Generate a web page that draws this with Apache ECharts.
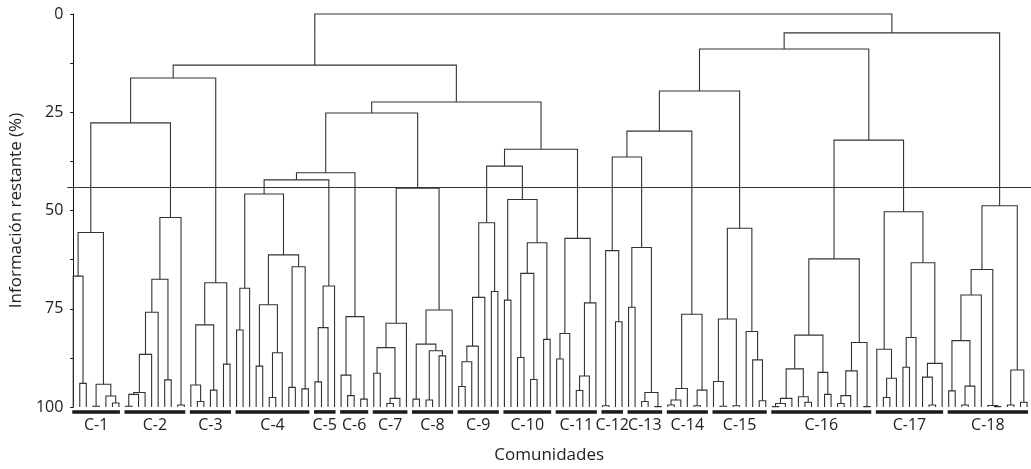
<!DOCTYPE html>
<html><head><meta charset="utf-8">
<script src="https://cdn.jsdelivr.net/npm/echarts/dist/echarts.min.js"></script>
<style>html,body{margin:0;padding:0;background:#fff}#c{width:1031px;height:469px}</style>
</head><body><div id="c"></div>
<script>
// Leaf marker; inner nodes are [height (% information remaining), left, right]
const L = 'leaf';

const communities = ['C-1','C-2','C-3','C-4','C-5','C-6','C-7','C-8','C-9','C-10','C-11','C-12','C-13','C-14','C-15','C-16','C-17','C-18'];

const C1  = [55.6, [66.7, L, [94.0, L, L]], [94.2, [99.8, L, L], [97.2, L, [99.0, L, L]]]];
const C2  = [51.8, [67.5, [75.9, [86.6, [96.3, [96.8, [99.8, L, L], L], L], L], L], [93.1, L, L]], [99.5, L, L]];
const C3  = [68.4, [79.1, [94.4, L, [98.6, L, L]], [95.7, L, L]], [89.1, L, L]];
const C4  = [45.8, [69.8, [80.4, L, L], L], [61.3, [74.0, [89.6, L, L], [86.2, [97.6, L, L], L]], [64.3, [95.0, L, L], [95.4, L, L]]]];
const C5  = [69.2, [79.8, [93.6, L, L], L], L];
const C6  = [77.0, [91.9, L, [97.1, L, L]], [98.0, L, L]];
const C7  = [78.7, [84.9, [91.4, L, L], [97.8, [99.1, L, L], L]], L];
const C8  = [75.3, [84.0, [98.0, L, L], [85.7, [98.2, L, L], [87.0, L, L]]], L];
const C9  = [53.1, [72.1, [84.5, [88.5, [94.8, L, L], L], L], L], [70.6, L, L]];
const C10 = [47.2, [72.8, L, L], [58.2, [66.0, [87.4, L, L], [93.0, L, L]], [82.8, L, L]]];
const C11 = [57.1, [81.3, [87.8, L, L], L], [73.5, [92.1, [95.8, L, L], L], L]];
const C12 = [60.2, [99.7, L, L], [78.3, L, L]];
const C13 = [59.4, [74.6, L, L], [96.3, [98.6, L, L], [99.9, L, L]]];
const C14 = [76.4, [95.3, [98.2, [99.5, L, L], L], L], [95.7, [99.7, L, L], L]];
const C15 = [54.5, [77.6, [93.5, L, [99.8, L, L]], [99.7, L, L]], [80.8, L, [88.0, L, [98.4, L, L]]]];
const C16 = [62.3, [81.7, [90.3, [97.8, [99.1, [99.9, L, L], L], L], [97.4, L, [98.8, L, L]]], [91.2, L, [96.8, L, L]]], [83.6, [90.8, [97.1, [99.1, L, L], L], L], [99.9, L, L]]];
const C17 = [50.3, [85.3, L, [92.7, [97.6, L, L], L]], [63.3, [82.3, [89.9, L, L], L], [88.9, [92.4, L, [99.5, L, L]], L]]];
const C18 = [48.8, [65.0, [71.5, [83.1, [95.9, L, L], [94.7, [99.5, L, L], L]], L], [99.6, L, [99.9, L, L]]], [90.6, [99.5, L, L], [98.8, L, L]]];

const communityTrees = [C1,C2,C3,C4,C5,C6,C7,C8,C9,C10,C11,C12,C13,C14,C15,C16,C17,C18];

// Upper part of the tree: joins between communities
const upperTree = [0.0,
  [13.0,
    [16.3, [27.7, 'C-1', 'C-2'], 'C-3'],
    [22.4,
      [25.2, [40.4, [42.2, 'C-4', 'C-5'], 'C-6'], [44.3, 'C-7', 'C-8']],
      [34.4, [38.7, 'C-9', 'C-10'], 'C-11']]],
  [4.8,
    [8.9,
      [19.6, [29.8, [36.4, 'C-12', 'C-13'], 'C-14'], 'C-15'],
      [32.1, 'C-16', 'C-17']],
    'C-18']];

const cutoff = 44.1;
const yTicks = [0, 25, 50, 75, 100];

// ---- build links from the tree ----
let leafIdx = 0;
const links = [];
const groups = [];
function layout(node) {
  if (node === L) { return {x: leafIdx++, h: 100}; }
  if (typeof node === 'string') {
    const first = leafIdx;
    const r = layout(communityTrees[communities.indexOf(node)]);
    groups.push([first, leafIdx - 1, node]);
    return r;
  }
  const A = layout(node[1]), B = layout(node[2]);
  links.push([A.x, A.h, B.x, B.h, node[0]]);
  return {x: (A.x + B.x) / 2, h: node[0]};
}
layout(upperTree);
const nLeaves = leafIdx;

const FONT = 'Open Sans';
const chart = echarts.init(document.getElementById('c'));
chart.setOption({
  animation: false,
  backgroundColor: '#fff',
  grid: {left: 60, right: 0, top: 14, bottom: 62},
  xAxis: {
    type: 'value', min: -0.9, max: nLeaves - 0.4,
    axisLine: {show: false}, axisTick: {show: false}, axisLabel: {show: false}, splitLine: {show: false},
    name: 'Comunidades', nameLocation: 'middle', nameGap: 40,
    nameTextStyle: {fontFamily: FONT, fontSize: 17, color: '#222'}
  },
  yAxis: {
    type: 'value', inverse: true, min: 0, max: 100, interval: 12.5,
    axisLine: {show: true, lineStyle: {color: '#111', width: 1}},
    axisTick: {show: true, length: 3, lineStyle: {color: '#111'}},
    splitLine: {show: false},
    axisLabel: {
      margin: 4, fontFamily: FONT, fontSize: 16, color: '#222',
      formatter: v => (yTicks.indexOf(v) >= 0 ? String(v) : '')
    },
    name: 'Información restante (%)', nameLocation: 'middle', nameGap: 33,
    nameTextStyle: {fontFamily: FONT, fontSize: 17, color: '#222'}
  },
  series: [
    {
      type: 'custom', clip: false,
      data: links,
      encode: {x: [0, 2], y: [1, 3, 4]},
      renderItem: (params, api) => {
        const p1 = api.coord([api.value(0), api.value(1)]);
        const p2 = api.coord([api.value(0), api.value(4)]);
        const p3 = api.coord([api.value(2), api.value(4)]);
        const p4 = api.coord([api.value(2), api.value(3)]);
        return {type: 'polyline', shape: {points: [p1, p2, p3, p4]},
                style: {stroke: '#333', lineWidth: 1.1, fill: null}};
      },
      markLine: {
        silent: true, symbol: 'none', label: {show: false},
        lineStyle: {color: '#333', width: 1.1, type: 'solid'},
        data: [{yAxis: cutoff}]
      }
    },
    {
      type: 'custom', clip: false,
      data: groups,
      encode: {x: [0, 1]},
      renderItem: (params, api) => {
        const a = api.coord([api.value(0) - 0.15, 100.8]);
        const b = api.coord([api.value(1) + 0.15, 101.7]);
        const mid = api.coord([(api.value(0) + api.value(1)) / 2, 104.6]);
        return {type: 'group', children: [
          {type: 'rect', shape: {x: a[0], y: a[1], width: b[0] - a[0], height: b[1] - a[1]},
           style: {fill: '#1a1a1a'}},
          {type: 'text', x: mid[0], y: mid[1],
           style: {text: groups[params.dataIndex][2], fontFamily: FONT, fontSize: 16, fill: '#222',
                   align: 'center', verticalAlign: 'middle'}}
        ]};
      }
    }
  ]
});
</script>
</body></html>
